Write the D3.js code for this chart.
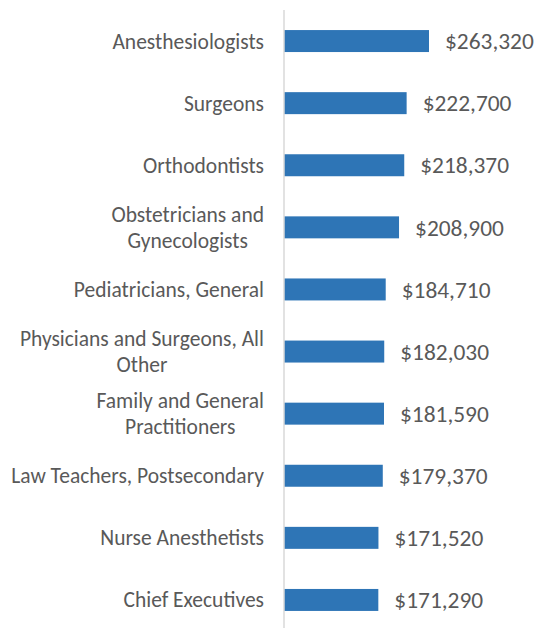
<!DOCTYPE html>
<html>
<head>
<meta charset="utf-8">
<script src="https://cdn.jsdelivr.net/npm/d3@7"></script>
<style>
  html, body { margin: 0; padding: 0; background: #fff; }
  svg text { font-family: Carlito, Calibri, Lato, sans-serif; fill: #595959; }
</style>
</head>
<body>
<div id="chart"></div>
<script>
const occupations = [
  "Anesthesiologists",
  "Surgeons",
  "Orthodontists",
  "Obstetricians and Gynecologists",
  "Pediatricians, General",
  "Physicians and Surgeons, All Other",
  "Family and General Practitioners",
  "Law Teachers, Postsecondary",
  "Nurse Anesthetists",
  "Chief Executives"
];
const meanWages = [263320, 222700, 218370, 208900, 184710, 182030, 181590, 179370, 171520, 171290];

const width = 537, height = 628;
const axisX = 284;

const svg = d3.select("#chart").append("svg")
  .attr("width", width)
  .attr("height", height);

const x = d3.scaleLinear()
  .domain([0, 263320])
  .range([axisX, 429]);

const y = d3.scaleBand()
  .domain(occupations)
  .range([10, 631])
  .paddingInner(0.646)
  .paddingOuter(0.323);

// bars
svg.append("g").selectAll("rect")
  .data(meanWages)
  .join("rect")
  .attr("x", x(0))
  .attr("y", (d, i) => y(occupations[i]))
  .attr("width", d => x(d) - x(0))
  .attr("height", y.bandwidth())
  .attr("fill", "#2e75b6");

// vertical axis line
svg.append("line")
  .attr("x1", axisX).attr("x2", axisX)
  .attr("y1", 10).attr("y2", height)
  .attr("stroke", "#d9d9d9")
  .attr("stroke-width", 1.5);

// value labels
const fmt = d3.format("$,");
svg.append("g").selectAll("text")
  .data(meanWages)
  .join("text")
  .attr("x", d => x(d) + 16)
  .attr("y", (d, i) => y(occupations[i]) + y.bandwidth() / 2)
  .attr("dy", "0.35em")
  .style("font-size", "23.4px")
  .text(d => fmt(d));

// category labels, wrapped and centred like Excel does
const labelRight = 264, maxW = 262, lineH = 25.5;
const labels = svg.append("g").selectAll("text")
  .data(occupations)
  .join("text")
  .style("font-size", "21.5px")
  .attr("text-anchor", "middle");

labels.each(function(name) {
  const t = d3.select(this);
  const words = name.split(" ");
  let lines = [], cur = [];
  const probe = t.append("tspan");
  words.forEach(w => {
    const test = cur.concat(w).join(" ");
    probe.text(test);
    if (cur.length && probe.node().getComputedTextLength() > maxW) {
      lines.push(cur.join(" "));
      cur = [w];
    } else {
      cur.push(w);
    }
  });
  lines.push(cur.join(" "));
  probe.remove();

  const cy = y(name) + y.bandwidth() / 2;
  const spans = lines.map((ln, k) => t.append("tspan")
    .attr("y", cy + (k - (lines.length - 1) / 2) * lineH)
    .attr("dy", "0.35em")
    .text(ln));
  const widest = d3.max(spans, s => s.node().getComputedTextLength());
  spans.forEach(s => s.attr("x", labelRight - widest / 2));
});
</script>
</body>
</html>
